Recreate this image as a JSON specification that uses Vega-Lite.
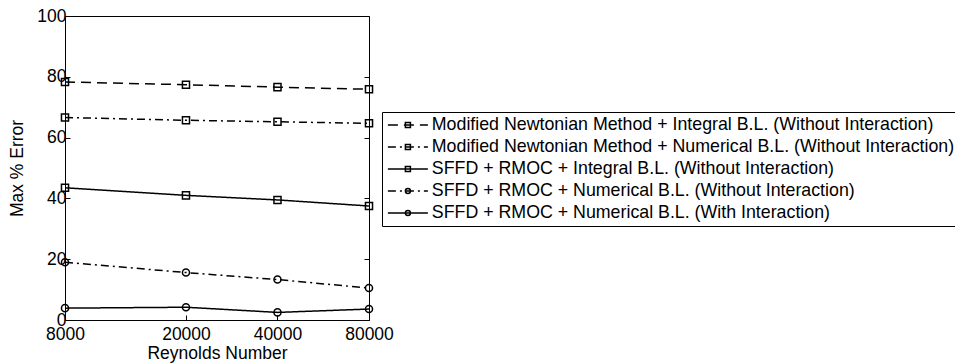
{
  "$schema": "https://vega.github.io/schema/vega-lite/v6.json",
  "width": 304,
  "height": 304,
  "autosize": {"type": "none"},
  "padding": {"left": 65, "top": 16, "right": 586, "bottom": 43},
  "background": "white",
  "config": {
    "font": "Liberation Sans",
    "view": {"stroke": "black", "strokeWidth": 1},
    "axis": {
      "labelFont": "Liberation Sans",
      "titleFont": "Liberation Sans",
      "labelFontSize": 17.5,
      "titleFontSize": 17.5,
      "labelColor": "black",
      "titleColor": "black",
      "titleFontWeight": "normal",
      "domainColor": "black",
      "tickColor": "black",
      "grid": false,
      "tickSize": -5,
      "labelFlush": false
    },
    "legend": {
      "labelFont": "Liberation Sans",
      "labelFontSize": 17.8,
      "labelColor": "black"
    }
  },
  "data": {
    "values": [
      {"series": "Modified Newtonian Method + Integral B.L. (Without Interaction)", "order": 1, "Re": 8000, "err": 78.3},
      {"series": "Modified Newtonian Method + Integral B.L. (Without Interaction)", "order": 1, "Re": 20000, "err": 77.4},
      {"series": "Modified Newtonian Method + Integral B.L. (Without Interaction)", "order": 1, "Re": 40000, "err": 76.6},
      {"series": "Modified Newtonian Method + Integral B.L. (Without Interaction)", "order": 1, "Re": 80000, "err": 75.9},
      {"series": "Modified Newtonian Method + Numerical B.L. (Without Interaction)", "order": 2, "Re": 8000, "err": 66.6},
      {"series": "Modified Newtonian Method + Numerical B.L. (Without Interaction)", "order": 2, "Re": 20000, "err": 65.7},
      {"series": "Modified Newtonian Method + Numerical B.L. (Without Interaction)", "order": 2, "Re": 40000, "err": 65.2},
      {"series": "Modified Newtonian Method + Numerical B.L. (Without Interaction)", "order": 2, "Re": 80000, "err": 64.7},
      {"series": "SFFD + RMOC + Integral B.L. (Without Interaction)", "order": 3, "Re": 8000, "err": 43.5},
      {"series": "SFFD + RMOC + Integral B.L. (Without Interaction)", "order": 3, "Re": 20000, "err": 41.0},
      {"series": "SFFD + RMOC + Integral B.L. (Without Interaction)", "order": 3, "Re": 40000, "err": 39.5},
      {"series": "SFFD + RMOC + Integral B.L. (Without Interaction)", "order": 3, "Re": 80000, "err": 37.5},
      {"series": "SFFD + RMOC + Numerical B.L. (Without Interaction)", "order": 4, "Re": 8000, "err": 19.0},
      {"series": "SFFD + RMOC + Numerical B.L. (Without Interaction)", "order": 4, "Re": 20000, "err": 15.6},
      {"series": "SFFD + RMOC + Numerical B.L. (Without Interaction)", "order": 4, "Re": 40000, "err": 13.3},
      {"series": "SFFD + RMOC + Numerical B.L. (Without Interaction)", "order": 4, "Re": 80000, "err": 10.5},
      {"series": "SFFD + RMOC + Numerical B.L. (With Interaction)", "order": 5, "Re": 8000, "err": 3.9},
      {"series": "SFFD + RMOC + Numerical B.L. (With Interaction)", "order": 5, "Re": 20000, "err": 4.2},
      {"series": "SFFD + RMOC + Numerical B.L. (With Interaction)", "order": 5, "Re": 40000, "err": 2.5},
      {"series": "SFFD + RMOC + Numerical B.L. (With Interaction)", "order": 5, "Re": 80000, "err": 3.6}
    ]
  },
  "encoding": {
    "x": {
      "field": "Re",
      "type": "quantitative",
      "scale": {"type": "log", "domain": [8000, 80000], "nice": false},
      "axis": {"values": [8000, 20000, 40000, 80000], "format": "d", "title": "Reynolds Number", "titlePadding": 2, "labelPadding": 10}
    }
  },
  "layer": [
    {
      "mark": {"type": "line", "color": "black", "strokeWidth": 1.5},
      "encoding": {
        "y": {
          "field": "err",
          "type": "quantitative",
          "scale": {"domain": [0, 100], "nice": false},
          "axis": {"orient": "left", "values": [0, 20, 40, 60, 80, 100], "title": "Max % Error", "titlePadding": 10, "labelPadding": 4}
        },
        "detail": {"field": "series"},
        "strokeDash": {
          "field": "series",
          "type": "nominal",
          "scale": {
            "domain": [
              "Modified Newtonian Method + Integral B.L. (Without Interaction)",
              "Modified Newtonian Method + Numerical B.L. (Without Interaction)",
              "SFFD + RMOC + Integral B.L. (Without Interaction)",
              "SFFD + RMOC + Numerical B.L. (Without Interaction)",
              "SFFD + RMOC + Numerical B.L. (With Interaction)"
            ],
            "range": [[10, 6], [8, 4, 2, 4], [1, 0], [8, 4, 2, 4], [1, 0]]
          },
          "legend": {
            "title": null,
            "orient": "none",
            "legendX": 317,
            "legendY": 96,
            "padding": 4,
            "rowPadding": 3,
            "strokeColor": "black",
            "fillColor": "white",
            "symbolType": "M-4,0H4",
            "symbolSize": 100,
            "symbolStrokeWidth": 1.5,
            "symbolStrokeColor": "black",
            "symbolOffset": 13,
            "labelOffset": 15,
            "labelLimit": 0
          }
        }
      }
    },
    {
      "mark": {"type": "point", "filled": false, "color": "black", "strokeWidth": 1.5, "size": 50, "opacity": 1},
      "encoding": {
        "y": {
          "field": "err",
          "type": "quantitative",
          "axis": {"orient": "right", "values": [0, 20, 40, 60, 80, 100], "labels": false, "domain": false, "title": null}
        },
        "shape": {
          "field": "series",
          "type": "nominal",
          "sort": {"field": "order"},
          "scale": {"range": ["square", "square", "square", "circle", "circle"]},
          "legend": {
            "title": null,
            "orient": "none",
            "legendX": 317,
            "legendY": 96,
            "padding": 4,
            "rowPadding": 3,
            "symbolSize": 25,
            "symbolStrokeWidth": 1.5,
            "symbolStrokeColor": "black",
            "symbolOffset": 13,
            "labelOffset": 15,
            "labelOpacity": 0,
            "labelLimit": 0
          }
        }
      }
    }
  ],
  "resolve": {"axis": {"y": "independent"}}
}
